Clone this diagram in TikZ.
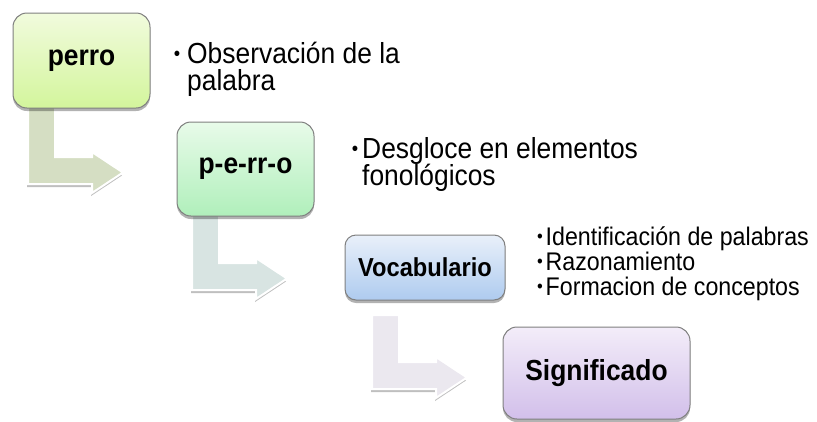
\documentclass[tikz,border=0pt]{standalone}
\usepackage{fontspec}
\setmainfont{Liberation Sans}
\newfontfamily\lab[FakeStretch=0.91]{Liberation Sans}
\usetikzlibrary{shadows}
\definecolor{bordergray}{HTML}{7F7F7F}
\definecolor{gAtop}{HTML}{F1FBDD}
\definecolor{gAbot}{HTML}{D3F59C}
\definecolor{gBtop}{HTML}{E8FBE9}
\definecolor{gBbot}{HTML}{B0EFBB}
\definecolor{gCtop}{HTML}{E9F0FA}
\definecolor{gCbot}{HTML}{AECBEF}
\definecolor{gDtop}{HTML}{F3EDF9}
\definecolor{gDbot}{HTML}{D2BFEA}
\definecolor{arrA}{HTML}{D5DEC3}
\definecolor{arrB}{HTML}{D8E4E2}
\definecolor{arrC}{HTML}{EBE8EF}
\tikzset{
  stepbox/.style={draw=bordergray, line width=1pt, rounded corners=14pt,
    shading=axis, inner sep=0pt, text=black,
    drop shadow={shadow xshift=0pt, shadow yshift=-3pt, opacity=0.3, fill=black},
    font=\lab\bfseries\fontsize{29}{29}\selectfont},
  bentarr/.style={fill=#1, draw=white, line width=2pt, line join=miter,
    drop shadow={shadow xshift=-1pt, shadow yshift=-3pt, opacity=0.25, fill=black}},
  bul/.style={inner sep=0pt, anchor=base, font=\lab\fontsize{20}{20}\selectfont},
  txt/.style={inner sep=0pt, anchor=base west, text height=20pt, text depth=5pt,
    font=\lab\fontsize{29}{29}\selectfont},
  bulS/.style={bul, font=\lab\fontsize{18}{18}\selectfont},
  txtS/.style={txt, text height=18pt, text depth=4pt, font=\lab\fontsize{25.5}{25.5}\selectfont}
}
\newcommand{\bentarrow}[4]{%
  \begin{scope}[shift={(#1,#2)}]
    \path[bentarr=#4] (0,#3) -- (27,#3) -- (27,47) -- (64,47) -- (64,42)
      -- (95,62.5) -- (64,83) -- (64,74) -- (0,74) -- cycle;
  \end{scope}}
\begin{document}
\begin{tikzpicture}[x=1pt, y=-1pt]
\useasboundingbox (0,0) rectangle (817,421);
% bent arrows (behind boxes)
\bentarrow{28}{110}{-8}{arrA}
\bentarrow{192}{216}{-8}{arrB}
\bentarrow{372}{315}{0}{arrC}
% boxes
\node[stepbox, top color=gAtop, bottom color=gAbot, minimum width=137pt, minimum height=95pt] (b1) at (81.5,60.5) {perro};
\node[stepbox, top color=gBtop, bottom color=gBbot, minimum width=137pt, minimum height=94pt] (b2) at (245.5,169) {p-e-rr-o};
\node[stepbox, rounded corners=11pt, top color=gCtop, bottom color=gCbot, minimum width=160pt, minimum height=65pt, font=\lab\bfseries\fontsize{26}{26}\selectfont] (b3) at (425,267.5) {Vocabulario};
\node[stepbox, top color=gDtop, bottom color=gDbot, minimum width=187pt, minimum height=92pt] (b4) at (596.5,373) {Significado};
% bullet texts
\node[bul] (t1b) at (177,60) {•};
\node[txt] (t1a) at (187,63) {Observación de la};
\node[txt] (t1c) at (187,90) {palabra};
\node[bul] (t2b) at (355,155) {•};
\node[txt] (t2a) at (362,158) {Desgloce en elementos};
\node[txt] (t2c) at (362,185) {fonológicos};
\node[bulS] (t3b) at (540,242.5) {•};
\node[txtS] (t3a) at (545.5,245) {Identificación de palabras};
\node[bulS] (t4b) at (540,267.5) {•};
\node[txtS] (t4a) at (545.5,270) {Razonamiento};
\node[bulS] (t5b) at (540,292.5) {•};
\node[txtS] (t5a) at (545.5,295) {Formacion de conceptos};
\end{tikzpicture}
\end{document}
